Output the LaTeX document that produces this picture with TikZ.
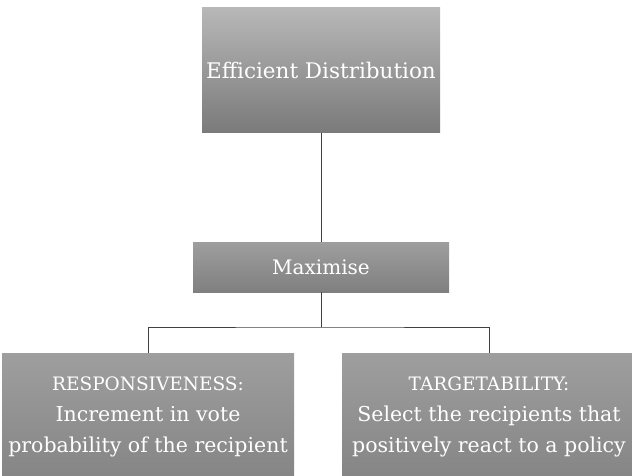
\documentclass[tikz,border=0pt]{standalone}
\usepackage{fontspec}
\setmainfont{DejaVu Serif}
\usepackage{xcolor}
\usepackage{tikz}
\usetikzlibrary{shapes,positioning,calc}

\begin{document}
\begin{tikzpicture}[x=1pt, y=-1pt,
        goalbox/.style={
                rectangle,
                inner sep=0pt,
                text=white,
                align=center,
                top color=black!28,
                bottom color=black!52,
        },
        link/.style={
                draw=black!75,
                line width=0.6pt,
        }]
            \useasboundingbox (0, 0) rectangle (632, 475);
            \node[goalbox, minimum width=238pt, minimum height=125pt, font=\fontsize{21.5}{24}\selectfont] (effdist) at (321, 70) {Efficient Distribution};
            \node[goalbox, minimum width=256pt, minimum height=50pt, top color=black!38, bottom color=black!50, font=\fontsize{20}{24}\selectfont] (maxim) at (321, 267) {Maximise};
            \node[goalbox, minimum width=292pt, minimum height=128pt, top color=black!38, bottom color=black!48, font=\fontsize{20.5}{31}\selectfont] (respon) at (148, 417) {{\fontsize{18.5}{31}\selectfont RESPONSIVENESS:}\\Increment in vote\\probability of the recipient};
            \node[goalbox, minimum width=294pt, minimum height=128pt, top color=black!38, bottom color=black!48, font=\fontsize{20.5}{31}\selectfont] (target) at (489, 417) {{\fontsize{18.5}{31}\selectfont TARGETABILITY:}\\Select the recipients that\\positively react to a policy};
            \coordinate (split) at (321, 327);
            \draw[link] (effdist.south) -- (maxim.north);
            \draw[link] (maxim.south) -- (split);
            \draw[link] (respon.north) |- (split) -| (target.north);
        \end{tikzpicture}
\end{document}
